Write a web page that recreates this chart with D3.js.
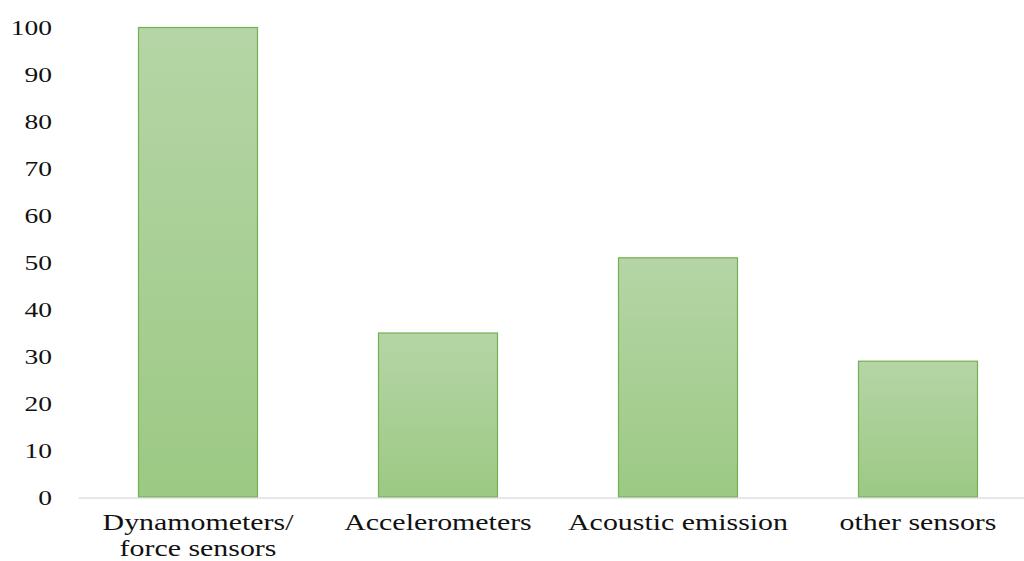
<!DOCTYPE html>
<html>
<head>
<meta charset="utf-8">
<script src="https://cdn.jsdelivr.net/npm/d3@7"></script>
<style>
  html, body { margin: 0; padding: 0; background: #fff; }
  svg { display: block; }
  text { font-family: "Liberation Serif", "Times New Roman", serif; fill: #111; }
</style>
</head>
<body>
<svg id="chart" width="1024" height="561"></svg>
<script>
// Sensor categories and their counts
const categories = ["Dynamometers/\nforce sensors", "Accelerometers", "Acoustic emission", "other sensors"];
const counts = [100, 35, 51, 29];
const yTicks = [0, 10, 20, 30, 40, 50, 60, 70, 80, 90, 100];

const svg = d3.select("#chart");
const baseY = 497, topY = 27;
const tickStretch = 1.25;  // wide text setting for tick numbers
const labelStretch = 1.3;  // wide text setting for category names

const x = d3.scaleBand()
  .domain(categories)
  .range([78, 1038])
  .paddingInner(0.5)
  .paddingOuter(0.25);

const y = d3.scaleLinear()
  .domain([0, 100])
  .range([baseY, topY]);

// Vertical gradient fill for bars
const defs = svg.append("defs");
const grad = defs.append("linearGradient")
  .attr("id", "barFill")
  .attr("x1", 0).attr("y1", 0).attr("x2", 0).attr("y2", 1);
grad.append("stop").attr("offset", "0%").attr("stop-color", "#b5d5a6");
grad.append("stop").attr("offset", "100%").attr("stop-color", "#9cc984");

// Y axis labels (no line, no ticks)
const yAxis = d3.axisLeft(y).tickValues(yTicks).tickSize(0).tickPadding(0);
const gy = svg.append("g")
  .attr("transform", "translate(52,0)")
  .call(yAxis);
gy.select(".domain").remove();
gy.selectAll("text")
  .attr("font-family", null)
  .attr("font-size", 22)
  .attr("fill", "#111")
  .attr("x", 0)
  .attr("dy", "0.33em")
  .attr("transform", `scale(${tickStretch},1)`);

// Bars
svg.append("g")
  .selectAll("rect")
  .data(counts)
  .join("rect")
  .attr("x", (d, i) => x(categories[i]) + 0.5)
  .attr("y", d => y(d) + 0.5)
  .attr("width", x.bandwidth() - 1)
  .attr("height", d => baseY - y(d) - 0.5)
  .attr("fill", "url(#barFill)")
  .attr("stroke", "#74b04f")
  .attr("stroke-width", 1.2);

// Baseline
const xAxis = d3.axisBottom(x).tickSize(0).tickPadding(0).tickFormat("");
const gx = svg.append("g")
  .attr("transform", `translate(0,${baseY + 0.5})`)
  .call(xAxis);
gx.select(".domain")
  .attr("stroke", "#d0d0d0")
  .attr("stroke-width", 1.2);

// Category labels, split into lines
const labels = svg.append("g")
  .selectAll("g")
  .data(categories)
  .join("g")
  .attr("transform", d => `translate(${x(d) + x.bandwidth() / 2},530) scale(${labelStretch},1)`);
labels.append("text")
  .attr("text-anchor", "middle")
  .attr("font-size", 23)
  .each(function(d) {
    const t = d3.select(this);
    d.split("\n").forEach((line, i) => {
      t.append("tspan")
        .attr("x", 0)
        .attr("dy", i === 0 ? 0 : 26)
        .text(line);
    });
  });
</script>
</body>
</html>
